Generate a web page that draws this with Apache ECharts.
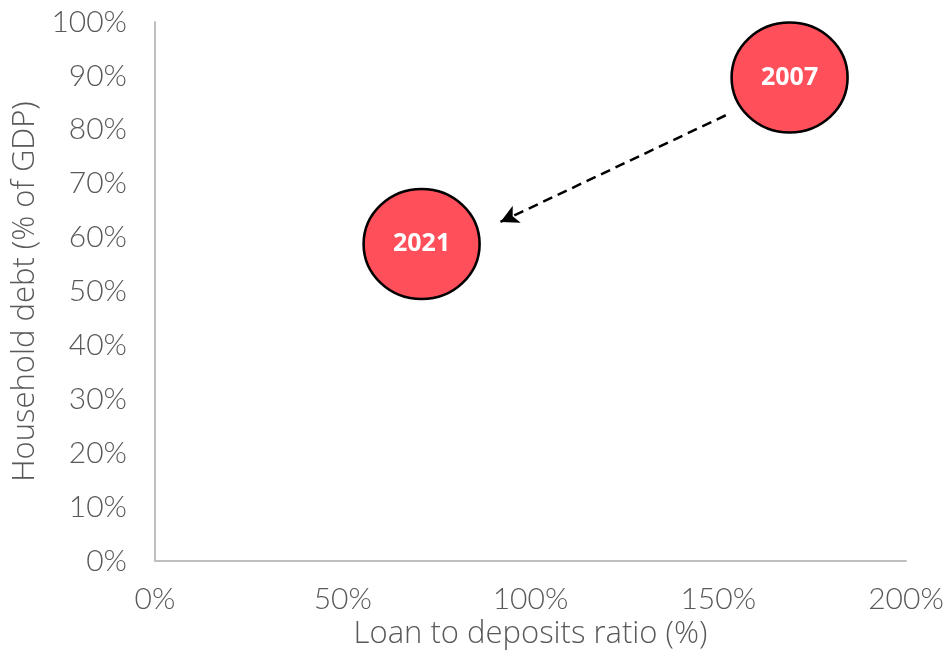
<!DOCTYPE html>
<html><head><meta charset="utf-8">
<script src="https://cdn.jsdelivr.net/npm/echarts@6/dist/echarts.min.js"></script>
<style>html,body{margin:0;padding:0;background:#fff}#c{width:948px;height:661px}</style>
</head><body><div id="c"></div>
<script>
const years = ['2007', '2021'];
const loanToDeposits = [169, 71];
const householdDebt = [89.7, 58.8];
const xTicks = [0, 50, 100, 150, 200];
const yTicks = [0, 10, 20, 30, 40, 50, 60, 70, 80, 90, 100];
const arrowFrom = [152, 82.7];
const arrowTo = [92, 62.9];

const chart = echarts.init(document.getElementById('c'));
const tickFont = {color: '#595959', fontSize: 30, fontFamily: 'Lato', fontWeight: 300};
const nameFont = {color: '#595959', fontSize: 31, fontFamily: 'Open Sans', fontWeight: 300};
chart.setOption({
  animation: false,
  grid: {left: 155, right: 42, top: 22, bottom: 100, containLabel: false, outerBoundsMode: 'none'},
  xAxis: {
    type: 'value', min: xTicks[0], max: xTicks[xTicks.length-1], interval: 50,
    name: 'Loan to deposits ratio (%)', nameLocation: 'middle', nameGap: 57,
    nameTextStyle: nameFont,
    axisLine: {show: true, lineStyle: {color: '#bfbfbf', width: 2}},
    axisTick: {show: false}, splitLine: {show: false},
    axisLabel: Object.assign({margin: 23, formatter: v => v + '%'}, tickFont)
  },
  yAxis: {
    type: 'value', min: yTicks[0], max: yTicks[yTicks.length-1], interval: 10,
    name: 'Household debt (% of GDP)', nameLocation: 'middle', nameGap: 99,
    nameTextStyle: nameFont,
    axisLine: {show: true, lineStyle: {color: '#bfbfbf', width: 2}},
    axisTick: {show: false}, splitLine: {show: false},
    axisLabel: Object.assign({margin: 28, formatter: v => v + '%'}, tickFont)
  },
  series: [{
    type: 'scatter',
    symbol: 'circle',
    symbolSize: [116, 110],
    data: years.map((y, i) => ({name: y, value: [loanToDeposits[i], householdDebt[i]]})),
    itemStyle: {color: '#ff4f5a', borderColor: '#000', borderWidth: 2.5, opacity: 1},
    label: {show: true, position: 'inside', formatter: p => p.name, color: '#fff', fontWeight: 'bold', fontSize: 25, fontFamily: 'Open Sans'},
    emphasis: {disabled: true},
    markLine: {
      silent: true,
      symbol: ['none', 'arrow'], symbolSize: [14, 18],
      label: {show: false},
      lineStyle: {color: '#000', type: [10, 6], width: 2.5},
      data: [[{coord: arrowFrom}, {coord: arrowTo}]]
    }
  }]
});
</script></body></html>
